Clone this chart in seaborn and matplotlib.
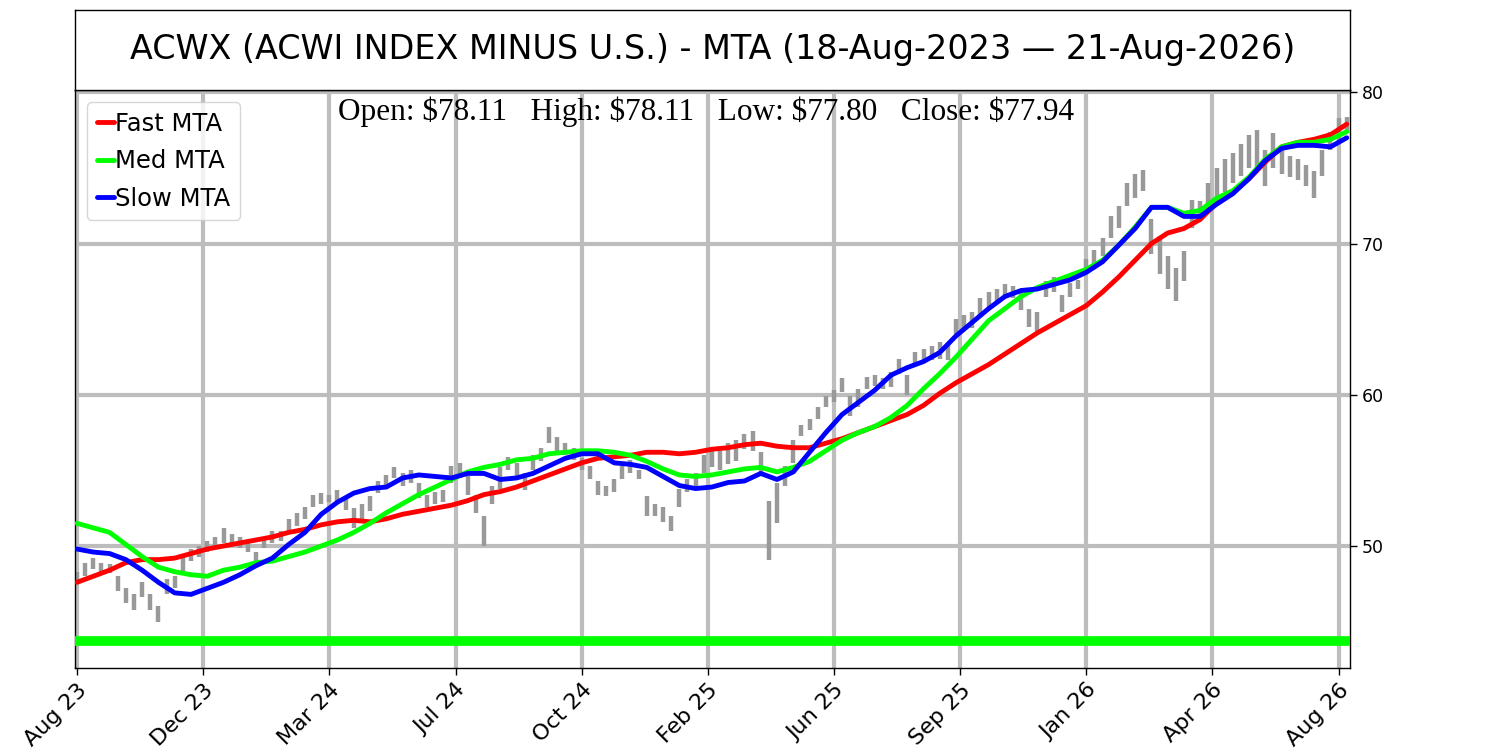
import matplotlib
matplotlib.use("Agg")
import matplotlib.pyplot as plt
import seaborn as sns
import numpy as np
import pandas as pd

# ---- data ----
weeks = list(range(157))
price_low = [47.6, 48.0, 48.5, 48.3, 48.2, 47.0, 46.2, 45.8, 46.6, 45.8,
             45.0, 46.8, 47.2, 48.3, 49.0, 49.3, 49.6, 49.8, 50.2, 50.0,
             49.9, 49.6, 48.6, 49.9, 50.2, 50.3, 51.0, 51.3, 51.8, 52.6,
             52.8, 52.9, 53.0, 52.4, 51.2, 51.8, 52.3, 53.5, 54.0, 54.5,
             54.0, 54.2, 53.2, 52.6, 52.8, 52.9, 54.2, 54.5, 53.4, 52.2,
             50.0, 52.8, 53.8, 55.0, 54.5, 53.7, 55.0, 55.6, 56.8, 56.2,
             56.0, 55.7, 55.0, 54.4, 53.4, 53.3, 53.6, 54.4, 54.8, 54.4,
             52.0, 52.0, 51.6, 51.0, 52.6, 53.6, 54.0, 54.8, 55.2, 55.0,
             55.4, 55.6, 56.4, 56.3, 54.8, 49.1, 51.5, 54.0, 55.5, 57.3,
             57.7, 58.4, 59.2, 59.5, 60.2, 58.6, 59.2, 60.4, 60.6, 60.4,
             60.5, 61.4, 60.0, 62.0, 62.2, 62.3, 62.4, 62.3, 64.0, 64.3,
             64.4, 65.3, 65.8, 66.2, 66.5, 66.4, 65.6, 64.5, 64.2, 66.5,
             66.8, 65.5, 66.5, 67.0, 68.0, 68.6, 69.2, 70.4, 71.0, 72.5,
             73.0, 73.5, 69.3, 68.0, 67.0, 66.2, 67.5, 71.0, 71.8, 72.0,
             72.6, 73.4, 74.0, 74.5, 75.0, 74.8, 73.8, 75.0, 74.6, 74.4,
             74.2, 73.8, 73.0, 74.5, 76.2, 76.8, 77.3]
price_high = [48.3, 48.9, 49.2, 48.9, 48.8, 48.0, 47.2, 46.8, 47.6, 46.8,
              46.0, 47.8, 48.0, 49.5, 49.8, 50.0, 50.3, 50.6, 51.2, 50.8,
              50.6, 50.4, 49.6, 50.6, 51.0, 51.0, 51.8, 52.2, 52.6, 53.4,
              53.5, 53.4, 53.7, 53.2, 52.5, 52.8, 53.3, 54.3, 54.7, 55.2,
              54.8, 55.0, 54.2, 53.4, 53.6, 53.7, 55.3, 55.5, 54.6, 53.4,
              52.0, 54.0, 55.2, 55.9, 55.5, 54.8, 56.0, 56.5, 57.9, 57.2,
              56.8, 56.5, 55.8, 55.3, 54.3, 54.0, 54.4, 55.3, 55.7, 55.0,
              53.3, 52.8, 52.6, 52.0, 53.8, 54.4, 54.8, 56.0, 56.4, 56.3,
              56.8, 57.0, 57.4, 57.6, 56.2, 53.0, 54.2, 55.3, 57.0, 58.0,
              58.4, 59.2, 59.9, 60.3, 61.1, 59.9, 60.4, 61.2, 61.3, 61.1,
              61.5, 62.4, 61.3, 62.8, 63.0, 63.2, 63.5, 63.4, 65.0, 65.3,
              65.5, 66.4, 66.8, 67.0, 67.3, 67.2, 67.0, 65.7, 65.5, 67.5,
              67.8, 66.6, 67.4, 67.6, 69.0, 69.6, 70.4, 71.8, 72.5, 74.0,
              74.6, 74.9, 71.6, 70.5, 69.2, 68.4, 69.5, 72.9, 72.8, 74.0,
              75.0, 75.6, 76.0, 76.6, 77.2, 77.5, 76.2, 77.3, 76.3, 75.8,
              75.6, 75.2, 74.8, 76.2, 77.4, 78.3, 78.4]

mta_weeks = list(range(0, 157, 2))
fast_mta = [47.6, 48.0, 48.4, 48.9, 49.1, 49.1, 49.2, 49.5, 49.8, 50.0,
            50.2, 50.4, 50.6, 50.9, 51.1, 51.4, 51.6, 51.7, 51.6, 51.8,
            52.1, 52.3, 52.5, 52.7, 53.0, 53.4, 53.6, 53.9, 54.3, 54.7,
            55.1, 55.5, 55.8, 55.9, 56.0, 56.2, 56.2, 56.1, 56.2, 56.4,
            56.5, 56.7, 56.8, 56.6, 56.5, 56.5, 56.8, 57.1, 57.5, 57.9,
            58.3, 58.7, 59.3, 60.1, 60.8, 61.4, 62.0, 62.7, 63.4, 64.1,
            64.7, 65.3, 65.9, 66.8, 67.8, 68.9, 70.0, 70.7, 71.0, 71.6,
            72.7, 73.4, 74.3, 75.4, 76.4, 76.7, 76.9, 77.2, 77.9]
med_mta = [51.5, 51.2, 50.9, 50.1, 49.3, 48.6, 48.3, 48.1, 48.0, 48.4,
           48.6, 48.9, 49.0, 49.3, 49.6, 50.0, 50.4, 50.9, 51.5, 52.2,
           52.8, 53.4, 53.9, 54.4, 54.9, 55.2, 55.4, 55.7, 55.8, 56.1,
           56.2, 56.3, 56.3, 56.2, 56.0, 55.6, 55.1, 54.7, 54.6, 54.7,
           54.9, 55.1, 55.2, 54.9, 55.2, 55.6, 56.3, 57.0, 57.5, 57.9,
           58.5, 59.3, 60.4, 61.4, 62.5, 63.7, 64.9, 65.7, 66.5, 67.1,
           67.5, 67.9, 68.3, 68.9, 69.9, 71.1, 72.4, 72.4, 72.0, 72.2,
           73.0, 73.5, 74.4, 75.6, 76.4, 76.7, 76.7, 76.9, 77.4]
slow_mta = [49.8, 49.6, 49.5, 49.1, 48.4, 47.6, 46.9, 46.8, 47.2, 47.6,
            48.1, 48.7, 49.2, 50.1, 50.9, 52.1, 52.9, 53.5, 53.8, 53.9,
            54.5, 54.7, 54.6, 54.5, 54.8, 54.8, 54.4, 54.5, 54.8, 55.3,
            55.8, 56.1, 56.1, 55.5, 55.4, 55.2, 54.6, 54.0, 53.8, 53.9,
            54.2, 54.3, 54.8, 54.4, 54.9, 56.2, 57.5, 58.7, 59.5, 60.3,
            61.3, 61.8, 62.2, 62.8, 63.9, 64.8, 65.7, 66.5, 66.9, 67.0,
            67.3, 67.6, 68.1, 68.8, 69.9, 71.0, 72.4, 72.4, 71.8, 71.8,
            72.6, 73.3, 74.3, 75.5, 76.3, 76.5, 76.5, 76.4, 77.0]
support_level = 43.7

tick_weeks = [0, 15.5, 31, 46.5, 62, 77.5, 93, 108.5, 124, 139.5, 155]
tick_labels = ["Aug 23", "Dec 23", "Mar 24", "Jul 24", "Oct 24", "Feb 25",
               "Jun 25", "Sep 25", "Jan 26", "Apr 26", "Aug 26"]
y_ticks = [50, 60, 70, 80]

title_text = "ACWX (ACWI INDEX MINUS U.S.) - MTA (18-Aug-2023 \u2014 21-Aug-2026)"
ohlc_text = r"Open: \$78.11   High: \$78.11   Low: \$77.80   Close: \$77.94"

# ---- figure ----
sns.set_style("white")
plt.rcParams['font.family'] = ['DejaVu Sans']
plt.rcParams['text.color'] = 'black'
plt.rcParams['xtick.color'] = 'black'
plt.rcParams['ytick.color'] = 'black'
plt.rcParams['axes.labelcolor'] = 'black'

fig = plt.figure(figsize=(15, 7.5), dpi=100)
ax = fig.add_axes([0.05, 0.1093, 0.85, 0.7707])
tax = fig.add_axes([0.05, 0.88, 0.85, 0.1067])

# title box
tax.set_xticks([])
tax.set_yticks([])
for s in tax.spines.values():
    s.set_color("black")
    s.set_linewidth(1.0)
tax.text(0.5, 0.5, title_text, ha="center", va="center", fontsize=24,
         color="black", transform=tax.transAxes)

# grid
for t in tick_weeks:
    ax.axvline(t, color="#bdbdbd", lw=3, zorder=0)
for t in y_ticks:
    ax.axhline(t, color="#bdbdbd", lw=3, zorder=0)

# price bars
ax.vlines(weeks, price_low, price_high, color="#999999", lw=3.2, zorder=2)

# support line
ax.axhline(support_level, color="#00ff00", lw=7, zorder=3)

# MTA lines
mta = pd.DataFrame({"week": mta_weeks, "Fast MTA": fast_mta,
                    "Med MTA": med_mta, "Slow MTA": slow_mta})
sns.lineplot(data=mta, x="week", y="Fast MTA", color="#ff0000", lw=3.5,
             ax=ax, label="Fast MTA", zorder=4)
sns.lineplot(data=mta, x="week", y="Med MTA", color="#00ff00", lw=3.5,
             ax=ax, label="Med MTA", zorder=5)
sns.lineplot(data=mta, x="week", y="Slow MTA", color="#0000ff", lw=3.5,
             ax=ax, label="Slow MTA", zorder=6)

ax.set_xlim(-0.25, 156.4)
ax.set_ylim(41.93, 80.16)
ax.set_xlabel("")
ax.set_ylabel("")
ax.yaxis.tick_right()
ax.set_yticks(y_ticks)
ax.set_xticks(tick_weeks)
ax.set_xticklabels(tick_labels, rotation=45, ha="right", rotation_mode="anchor")
ax.tick_params(axis="both", length=5, width=1, color="black",
               labelcolor="black", direction="out")
ax.tick_params(axis="x", bottom=True, labelsize=16)
ax.tick_params(axis="y", right=True, left=False, labelsize=12.5)
for s in ax.spines.values():
    s.set_color("black")
    s.set_linewidth(1.0)

leg = ax.legend(loc="upper left", fontsize=17.5, handlelength=0.7,
                handletextpad=0.05, borderpad=0.4, labelspacing=0.55,
                frameon=True, fancybox=True, framealpha=0.8)
leg.get_frame().set_edgecolor("#cccccc")
for line in leg.get_lines():
    line.set_linewidth(3.5)
for txt in leg.get_texts():
    txt.set_color("black")

ax.text(0.495, 0.988, ohlc_text, transform=ax.transAxes, ha="center", va="top",
        fontsize=22.5, color="black", family=["Liberation Serif", "DejaVu Serif"])

fig.savefig("out.png", dpi=100)
